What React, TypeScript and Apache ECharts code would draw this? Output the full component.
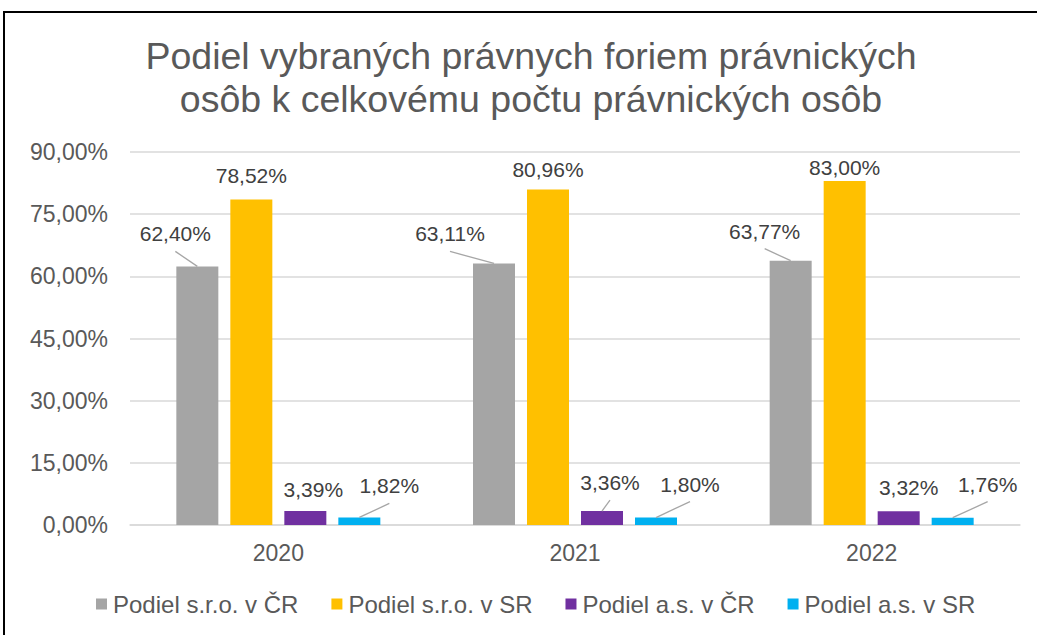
import React, { useEffect, useRef } from "react";
import * as echarts from "echarts";

const categories = ["2020", "2021", "2022"];
const seriesNames = ["Podiel s.r.o. v ČR", "Podiel s.r.o. v SR", "Podiel a.s. v ČR", "Podiel a.s. v SR"];
const sroCR = [62.4, 63.11, 63.77];
const sroSR = [78.52, 80.96, 83.0];
const asCR = [3.39, 3.36, 3.32];
const asSR = [1.82, 1.8, 1.76];
const yTicks = [0, 15, 30, 45, 60, 75, 90];

const colors = ["#A5A5A5", "#FFC000", "#7030A0", "#00B0F0"];
const BAR_W = 42;
const BAR_GAP = 12;
// label offsets (dx, dy) per series per category, and whether a leader line is shown
const labelOffsets = [
  [[-22, -17], [-44, -14], [-26, -14]],
  [[0, -9], [0, -4], [0, 2]],
  [[8, -6], [8, -13], [10, -8]],
  [[30, -16], [34, -18], [35, -18]],
];
const leaderLines = [
  [true, true, true],
  [false, false, false],
  [false, true, false],
  [true, true, true],
];

const fmt = (v: number) => v.toFixed(2).replace(".", ",") + "%";

export default function App() {
  const ref = useRef<HTMLDivElement>(null);
  useEffect(() => {
    if (!ref.current) return;
    const chart = echarts.init(ref.current, undefined, { renderer: "svg" });
    const all = [sroCR, sroSR, asCR, asSR];
    const series: any[] = all.map((vals, si) => ({
      name: seriesNames[si],
      type: "bar",
      barWidth: BAR_W,
      barGap: (BAR_GAP / BAR_W) * 100 + "%",
      itemStyle: { color: colors[si] },
      data: vals,
      label: {
        show: true,
        position: "top",
        distance: 5,
        formatter: (p: any) => fmt(p.value),
        color: "#404040",
        fontSize: 21,
        fontFamily: "Liberation Sans, Arial, sans-serif",
      },
      labelLayout: (p: any) => {
        const o = labelOffsets[si][p.dataIndex];
        return { dx: o[0], dy: o[1] };
      },
      z: 2,
    }));

    // leader lines for displaced labels
    const leaderData: any[] = [];
    all.forEach((vals, si) =>
      vals.forEach((v, di) => {
        if (leaderLines[si][di]) leaderData.push([di, v, si]);
      })
    );
    series.push({
      type: "custom",
      name: "leaders",
      silent: true,
      z: 3,
      data: leaderData,
      encode: { x: 0, y: 1 },
      renderItem: (params: any, api: any) => {
        const di = api.value(0);
        const v = api.value(1);
        const si = api.value(2);
        const top = api.coord([di, v]);
        const bx = top[0] + (si - 1.5) * (BAR_W + BAR_GAP);
        const by = top[1];
        const o = labelOffsets[si][di];
        const lx = bx + o[0];
        const ly = by - 5 + o[1] + 7;
        return {
          type: "line",
          shape: { x1: lx, y1: ly, x2: bx, y2: by },
          style: { stroke: "#A6A6A6", lineWidth: 1.3 },
        };
      },
    });

    chart.setOption({
      animation: false,
      backgroundColor: "#ffffff",
      textStyle: { fontFamily: "Liberation Sans, Arial, sans-serif" },
      title: {
        text: "Podiel vybraných právnych foriem právnických\nosôb k celkovému počtu právnických osôb",
        left: 526,
        top: 29,
        textAlign: "center",
        textStyle: {
          color: "#595959",
          fontSize: 37.5,
          fontWeight: "normal",
          lineHeight: 43,
          fontFamily: "Liberation Sans, Arial, sans-serif",
        },
      },
      legend: {
        left: 96,
        top: 592,
        padding: 0,
        itemWidth: 11,
        itemHeight: 11,
        itemGap: 33,
        icon: "rect",
        textStyle: { color: "#595959", fontSize: 24, padding: [0, 0, 0, 1] },
        data: seriesNames,
      },
      grid: { left: 130, right: 17, top: 152, bottom: 110 },
      xAxis: {
        type: "category",
        data: categories,
        axisLine: { lineStyle: { color: "#D9D9D9", width: 1.5 } },
        axisTick: { show: false },
        axisLabel: { color: "#595959", fontSize: 23, margin: 16 },
      },
      yAxis: {
        type: "value",
        min: yTicks[0],
        max: yTicks[yTicks.length - 1],
        interval: 15,
        axisLine: { show: false },
        axisTick: { show: false },
        splitLine: { lineStyle: { color: "#D9D9D9", width: 1.5 } },
        axisLabel: {
          color: "#595959",
          fontSize: 23,
          margin: 22,
          formatter: (v: number) => fmt(v),
        },
      },
      graphic: [
        {
          type: "rect",
          shape: { x: 4, y: 12, width: 1100, height: 700 },
          style: { fill: "none", stroke: "#000000", lineWidth: 2 },
          silent: true,
          z: 100,
        },
      ],
      series,
    });
    return () => chart.dispose();
  }, []);
  return (
    <div
      ref={ref}
      style={{ position: "fixed", left: 0, top: 0, width: 1037, height: 635 }}
    />
  );
}
